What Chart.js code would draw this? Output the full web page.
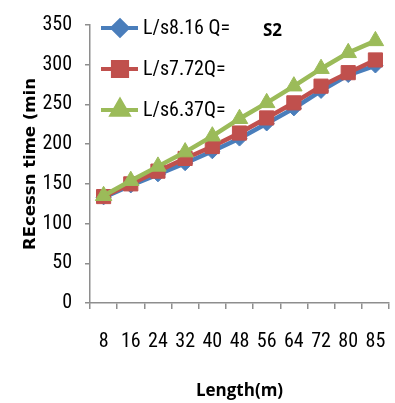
<!DOCTYPE html>
<html>
<head>
<meta charset="utf-8">
<script src="https://cdn.jsdelivr.net/npm/chart.js@4/dist/chart.umd.min.js"></script>
<style>
  html, body { margin: 0; padding: 0; background: #fff; overflow: hidden; }
  #wrap { position: absolute; left: 0; top: 0; width: 400px; height: 403px; }
</style>
</head>
<body>
<div id="wrap"><canvas id="chart" width="400" height="403"></canvas></div>
<script>
// recession time vs channel length, three discharges
const lengths = ["8", "16", "24", "32", "40", "48", "56", "64", "72", "80", "85"];
const q816 = [133, 148, 162, 176, 191, 207, 226, 245, 267, 287, 299];
const q772 = [134, 150, 166, 182, 197, 214, 233, 252, 273, 290, 306];
const q637 = [135, 154, 172, 190, 210, 232, 252, 273, 295, 315, 330];
const seriesNames = ["L/s8.16 Q=", "L/s7.72Q=", "L/s6.37Q="];
const yTicks = [0, 50, 100, 150, 200, 250, 300, 350];

// pick a narrow face if one is installed, else plain Roboto a bit smaller
function installed(name){
  const c = document.createElement("canvas").getContext("2d");
  c.font = "20px '" + name + "', monospace"; const a = c.measureText("350 L/s8.16").width;
  c.font = "20px '" + name + "', serif"; const b = c.measureText("350 L/s8.16").width;
  return a === b;
}
let narrow = "Roboto, sans-serif", narrowSize = 19;
for (const f of ["Liberation Sans Narrow", "Arial Narrow", "Roboto Condensed"]) {
  if (installed(f)) { narrow = "'" + f + "', sans-serif"; narrowSize = 20; break; }
}
const boldFont = "'Open Sans', sans-serif";
const yTitleFont = "'DejaVu Sans', sans-serif";
const axisGrey = "#8e8e8e";

function ds(label, data, color, style, r, order){
  return { label, data, borderColor: color, backgroundColor: color, borderWidth: 4.5,
    pointStyle: style, pointRadius: r, pointHoverRadius: r, pointBorderWidth: 1,
    tension: 0, order };
}

// legend drawn inside the plot, line + marker like the series
const insideLegend = {
  id: "insideLegend",
  afterDraw(chart){
    const ctx = chart.ctx;
    const rows = [28, 69, 110];
    ctx.save();
    chart.data.datasets.forEach((d, i) => {
      const y = rows[i];
      ctx.strokeStyle = d.borderColor;
      ctx.lineWidth = 4;
      ctx.beginPath(); ctx.moveTo(101, y); ctx.lineTo(138, y); ctx.stroke();
      ctx.fillStyle = d.backgroundColor;
      Chart.helpers.drawPoint(ctx, { pointStyle: d.pointStyle, radius: d.pointRadius, borderWidth: 1, rotation: 0 }, 120, y);
      ctx.fill();
      ctx.fillStyle = "#000";
      ctx.font = narrowSize + "px " + narrow;
      ctx.textBaseline = "middle";
      ctx.textAlign = "left";
      ctx.fillText(d.label, 143, y + 1);
    });
    ctx.font = "bold 17px " + boldFont;
    ctx.textBaseline = "middle";
    ctx.fillText("S2", 263, 31);
    ctx.restore();
  }
};

new Chart(document.getElementById("chart"), {
  type: "line",
  data: {
    labels: lengths,
    datasets: [
      ds(seriesNames[0], q816, "#4a7ebb", "rectRot", 7.5, 2),
      ds(seriesNames[1], q772, "#c0504d", "rect", 10, 1),
      ds(seriesNames[2], q637, "#9bbb59", "triangle", 9.5, 0)
    ]
  },
  options: {
    responsive: false,
    animation: false,
    devicePixelRatio: 1,
    layout: { padding: { top: 22, left: 0, right: 2, bottom: 0 } },
    plugins: { legend: { display: false }, tooltip: { enabled: false } },
    scales: {
      x: {
        offset: true,
        grid: { display: true, offset: true, drawOnChartArea: false, drawTicks: true, tickLength: 6, color: axisGrey, lineWidth: 1.5 },
        border: { display: true, color: axisGrey, width: 1.5 },
        ticks: { color: "#000", font: { family: narrow, size: narrowSize }, padding: 21, maxRotation: 0, autoSkip: false },
        title: { display: true, text: "Length(m)", color: "#000", font: { family: boldFont, size: 17, weight: "bold" }, padding: { top: 0, bottom: 2 } },
        afterFit(s){ s.height = 100; s.paddingLeft = 0; s.paddingRight = 0; }
      },
      y: {
        min: 0, max: 350,
        afterBuildTicks(s){ s.ticks = yTicks.map(v => ({ value: v })); },
        grid: { display: true, drawOnChartArea: false, drawTicks: true, tickLength: 5, color: axisGrey, lineWidth: 1.5 },
        border: { display: true, color: axisGrey, width: 1.5 },
        ticks: { color: "#000", font: { family: narrow, size: narrowSize }, padding: 13 },
        title: { display: true, text: "REcessn time (min", color: "#000", font: { family: yTitleFont, size: 16.5, weight: "bold" }, padding: { top: 21, bottom: 0 } },
        afterFit(s){ s.width = 90; }
      }
    }
  },
  plugins: [insideLegend]
});
</script>
</body>
</html>
